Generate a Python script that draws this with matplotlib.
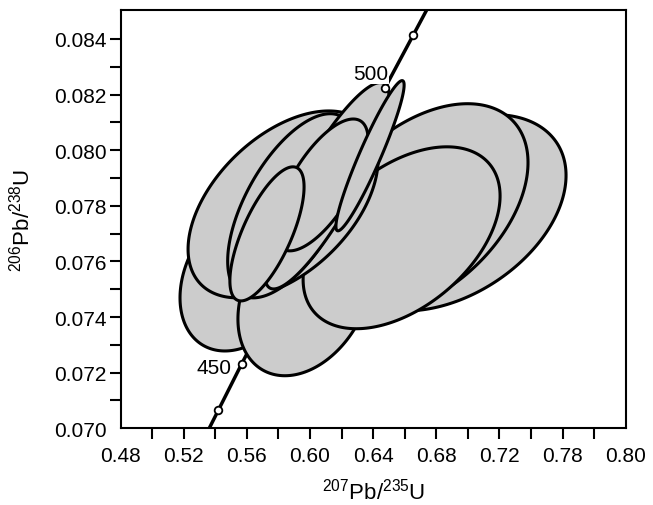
import numpy as np
import matplotlib
matplotlib.use("Agg")  # no display, just write the png
import matplotlib.pyplot as plt
from matplotlib.patches import Polygon

plt.rcParams["font.family"] = "Liberation Sans"
plt.rcParams["mathtext.fontset"] = "custom"
plt.rcParams["mathtext.rm"] = "Liberation Sans"
plt.rcParams["mathtext.it"] = "Liberation Sans:italic"
plt.rcParams["mathtext.bf"] = "Liberation Sans:bold"

# spot analyses in drawing order: ratio, 2s error, error correlation
pb207_u235 = [0.6887, 0.6697, 0.5588, 0.5968, 0.6580, 0.5829, 0.5884, 0.6107, 0.6073, 0.5727, 0.6380]
err_207_235 = [0.0735, 0.0684, 0.0412, 0.0425, 0.0624, 0.0602, 0.0406, 0.0393, 0.0295, 0.0235, 0.0216]
pb206_u238 = [0.07775, 0.07789, 0.07555, 0.07480, 0.07685, 0.07805, 0.07800, 0.07872, 0.07875, 0.07699, 0.07980]
err_206_238 = [0.00353, 0.00378, 0.00277, 0.00291, 0.00327, 0.00336, 0.00331, 0.00371, 0.00237, 0.00241, 0.00270]
err_corr = [0.38, 0.44, 0.31, 0.30, 0.46, 0.48, 0.60, 0.86, 0.68, 0.70, 0.94]

# concordia curve and its age ticks (Ma)
conc_x = [0.5299, 0.5418, 0.5567, 0.6474, 0.6655, 0.6801]
conc_y = [0.06930, 0.07064, 0.07232, 0.08223, 0.08415, 0.08570]
tick_age_x = [0.5418, 0.5567, 0.6474, 0.6655]
tick_age_y = [0.07064, 0.07232, 0.08223, 0.08415]
age_labels = ["450", "500"]
age_label_x = [0.5505, 0.6494]
age_label_y = [0.0722, 0.08276]

x_ticks = np.round(np.arange(0.48, 0.8001, 0.02), 2)
x_tick_labels = ["0.48", "", "0.52", "", "0.56", "", "0.60", "", "0.64", "",
                 "0.68", "", "0.72", "", "0.78", "", "0.80"]
y_ticks = np.round(np.arange(0.070, 0.08401, 0.001), 3)
y_tick_labels = ["0.070", "", "0.072", "", "0.074", "", "0.076", "",
                 "0.078", "", "0.080", "", "0.082", "", "0.084"]


def error_ellipse(x0, y0, sx, sy, r, n=240):
    cov = np.array([[sx * sx, r * sx * sy], [r * sx * sy, sy * sy]])
    vals, vecs = np.linalg.eigh(cov)
    t = np.linspace(0, 2 * np.pi, n)
    circ = np.vstack([np.cos(t), np.sin(t)])
    pts = vecs @ (np.sqrt(vals)[:, None] * circ)
    return np.column_stack([x0 + pts[0], y0 + pts[1]])


fig = plt.figure(figsize=(6.53, 5.06), dpi=100)
ax = fig.add_axes([0.1848, 0.1516, 0.7734, 0.8267])

ax.plot(conc_x, conc_y, color="black", lw=2.5, zorder=1)

for i in range(len(pb207_u235)):
    xy = error_ellipse(pb207_u235[i], pb206_u238[i], err_207_235[i], err_206_238[i], err_corr[i])
    ax.add_patch(Polygon(xy, closed=True, facecolor="#cccccc", edgecolor="black",
                         lw=2.2, zorder=2 + i * 0.01))

ax.plot(tick_age_x, tick_age_y, "o", ms=5.5, mfc="white", mec="black", mew=1.3, zorder=5)
for lab, lx, ly in zip(age_labels, age_label_x, age_label_y):
    ax.text(lx, ly, lab, ha="right", va="center", fontsize=15, zorder=6,
            bbox=dict(facecolor="white", edgecolor="none", pad=0.5))

ax.set_xlim(0.48, 0.80)
ax.set_ylim(0.070, 0.08504)
ax.set_xticks(x_ticks)
ax.set_xticklabels(x_tick_labels)
ax.set_yticks(y_ticks)
ax.set_yticklabels(y_tick_labels)
ax.tick_params(axis="both", direction="out", length=8, width=1.5, labelsize=15)
ax.tick_params(axis="x", pad=5)
ax.tick_params(axis="y", pad=2)
for t in [ax.xaxis.get_major_ticks()[0], ax.xaxis.get_major_ticks()[-1], ax.yaxis.get_major_ticks()[0]]:
    t.tick1line.set_visible(False)
for s in ax.spines.values():
    s.set_linewidth(1.5)

ax.set_xlabel(r"$^{207}$Pb/$^{235}$U", fontsize=16, labelpad=9)
ax.set_ylabel(r"$^{206}$Pb/$^{238}$U", fontsize=16, labelpad=14)

fig.savefig("out.png", dpi=100)
